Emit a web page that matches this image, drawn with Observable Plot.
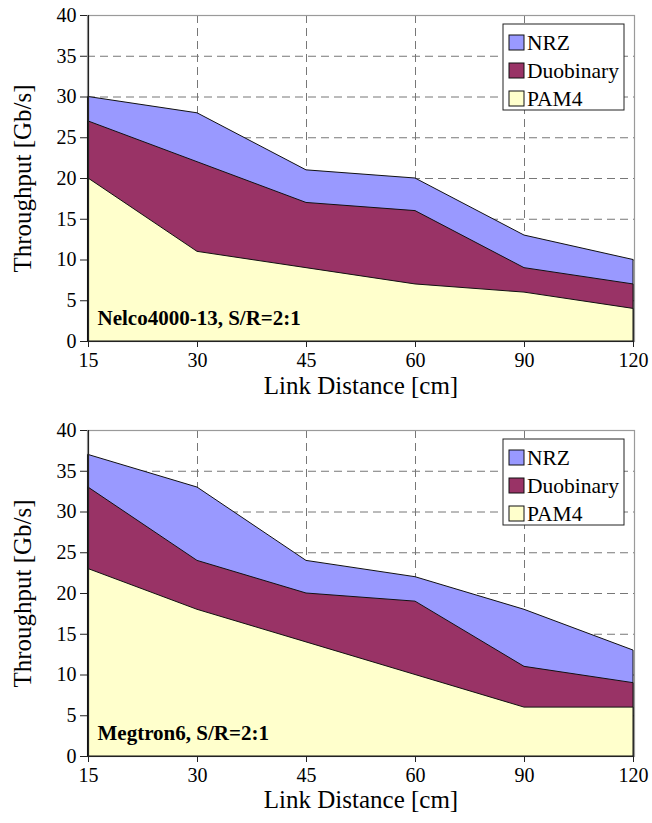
<!DOCTYPE html>
<html>
<head>
<meta charset="utf-8">
<script src="https://cdn.jsdelivr.net/npm/d3@7"></script>
<script src="https://cdn.jsdelivr.net/npm/@observablehq/plot@0.6"></script>
<style>
  html, body { margin: 0; padding: 0; background: #fff; }
  #chart { width: 652px; }
  svg { display: block; }
  #chart svg, #chart svg text { font-family: "Liberation Serif", "Times New Roman", Times, serif !important; }
</style>
</head>
<body>
<div id="chart"></div>
<script>
const distances = ["15", "30", "45", "60", "90", "120"];
const seriesNames = ["NRZ", "Duobinary", "PAM4"];
const seriesColors = ["#9999FF", "#993366", "#FFFFCC"];
const yTicks = [0, 5, 10, 15, 20, 25, 30, 35, 40];

const panel1Title = "Nelco4000-13, S/R=2:1";
const panel1NRZ = [30, 28, 21, 20, 13, 10];
const panel1Duobinary = [27, 22, 17, 16, 9, 7];
const panel1PAM4 = [20, 11, 9, 7, 6, 4];

const panel2Title = "Megtron6, S/R=2:1";
const panel2NRZ = [37, 33, 24, 22, 18, 13];
const panel2Duobinary = [33, 24, 20, 19, 11, 9];
const panel2PAM4 = [23, 18, 14, 10, 6, 6];

const xTitle = "Link Distance [cm]";
const yTitle = "Throughput [Gb/s]";
const FONT = "Liberation Serif";

function makePanel(title, seriesValues, opts) {
  const rows = [];
  seriesNames.forEach((s, i) => {
    distances.forEach((d, j) => rows.push({series: s, dist: d, value: seriesValues[i][j]}));
  });
  const ml = 87, mr = 18;
  const plot = Plot.plot({
    width: 652,
    height: opts.height,
    marginLeft: ml,
    marginRight: mr,
    marginTop: opts.marginTop,
    marginBottom: opts.marginBottom,
    style: {fontFamily: FONT, background: "#fff", color: "#000"},
    x: {type: "point", domain: distances, padding: 0},
    y: {domain: [0, 40]},
    color: {domain: seriesNames, range: seriesColors},
    marks: [
      Plot.gridY(yTicks.slice(1, -1), {stroke: "#777", strokeOpacity: 1, strokeDasharray: "8,5", strokeWidth: 1}),
      Plot.gridX(distances.slice(1, -1), {stroke: "#777", strokeOpacity: 1, strokeDasharray: "8,5", strokeWidth: 1}),
      Plot.frame({stroke: "#9a9a9a", strokeWidth: 1.2}),
      ...seriesNames.map(s => Plot.areaY(rows.filter(r => r.series === s), {
        x: "dist", y: "value", fill: "series", fillOpacity: 1, stroke: "#111", strokeWidth: 1
      })),
      Plot.ruleY([0], {stroke: "#222", strokeWidth: 1.2}),
      Plot.ruleX([distances[0]], {stroke: "#222", strokeWidth: 1.2}),
      Plot.axisY(yTicks, {tickSize: 7, tickPadding: 4, fontSize: 20, fontFamily: FONT, label: null, stroke: "#222"}),
      Plot.axisX({tickSize: 6, tickPadding: 5, fontSize: 20, fontFamily: FONT, label: null, stroke: "#222"}),
      Plot.text([title], {frameAnchor: "bottom-left", dx: 10, dy: -17, fontSize: 21, fontFamily: FONT, fontWeight: "bold", textAnchor: "start", lineAnchor: "bottom", fill: "#000"}),
      Plot.text([xTitle], {frameAnchor: "bottom", dy: opts.xTitleDy, fontSize: 25, fontFamily: FONT, textAnchor: "middle", lineAnchor: "top", fill: "#000"}),
      Plot.text([yTitle], {frameAnchor: "left", dx: -65, rotate: -90, fontSize: 25, fontFamily: FONT, textAnchor: "middle", lineAnchor: "middle", fill: "#000"})
    ]
  });

  // Legend inside the plot area (top-right)
  const svg = d3.select(plot);
  const frameRight = 652 - mr;
  const boxW = 121, boxH = 86;
  const bx = frameRight - 10 - boxW, by = opts.marginTop + 9;
  const g = svg.append("g").attr("font-family", FONT).attr("text-anchor", "start");
  g.append("rect").attr("x", bx).attr("y", by).attr("width", boxW).attr("height", boxH)
    .attr("fill", "#fff").attr("stroke", "#222").attr("stroke-width", 1);
  seriesNames.forEach((s, i) => {
    const cy = by + 18 + i * 28;
    g.append("rect").attr("x", bx + 6).attr("y", cy - 7).attr("width", 15).attr("height", 15)
      .attr("fill", seriesColors[i]).attr("stroke", "#111").attr("stroke-width", 1);
    g.append("text").attr("x", bx + 24).attr("y", cy).attr("dy", "0.35em")
      .attr("text-anchor", "start")
      .attr("font-size", 21.5).attr("fill", "#000").text(s);
  });
  return plot;
}

const container = document.getElementById("chart");
container.appendChild(makePanel(panel1Title, [panel1NRZ, panel1Duobinary, panel1PAM4],
  {height: 410, marginTop: 15, marginBottom: 69, xTitleDy: 35}));
container.appendChild(makePanel(panel2Title, [panel2NRZ, panel2Duobinary, panel2PAM4],
  {height: 413, marginTop: 20, marginBottom: 67, xTitleDy: 34}));
</script>
</body>
</html>
